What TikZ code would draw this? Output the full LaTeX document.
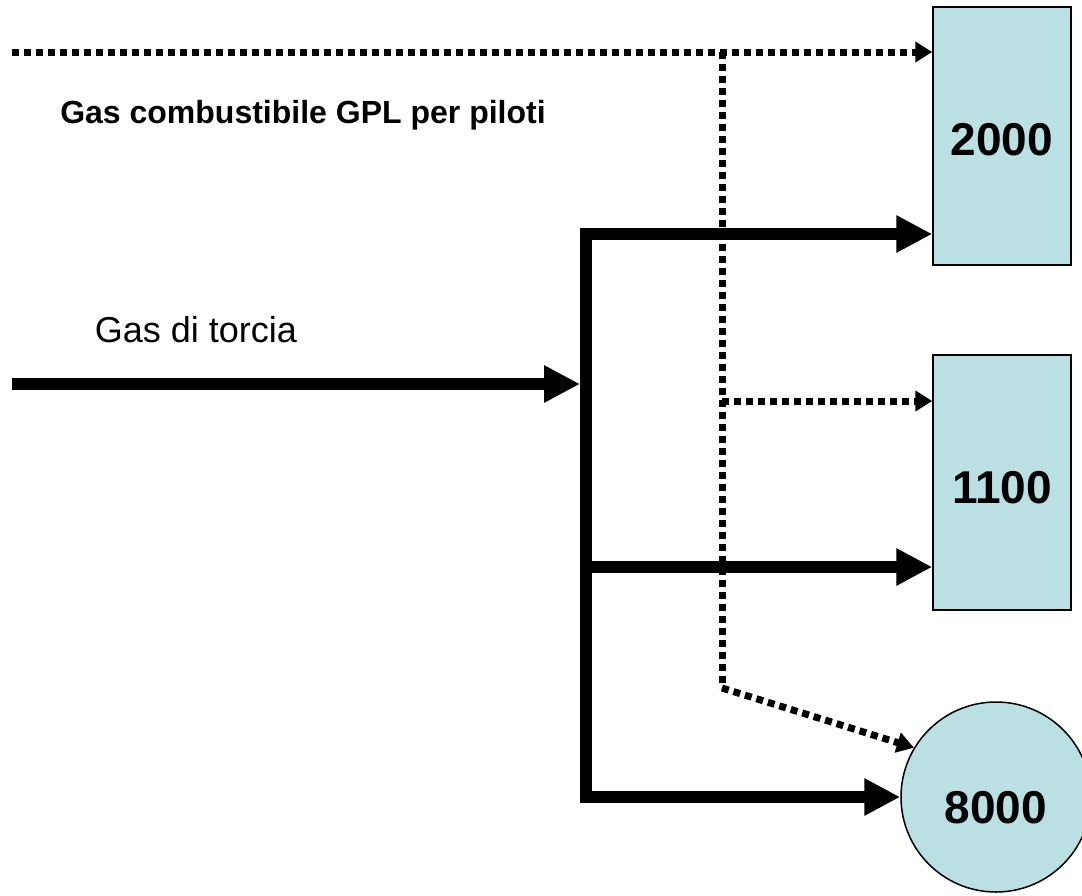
\documentclass[tikz,border=0pt]{standalone}
\usepackage{fontspec}
\setmainfont{Liberation Sans}
\usetikzlibrary{arrows.meta}
\definecolor{boxfill}{RGB}{187,224,227}
\tikzset{
  unitbox/.style={draw=black, line width=1.5pt, fill=boxfill, inner sep=0pt,
    font=\fontsize{46}{50}\selectfont\bfseries},
  flow/.style={line width=12pt, -{Triangle[length=36pt,width=35pt]}},
  busline/.style={line width=12pt},
  pilot/.style={line width=7pt, dash pattern=on 7pt off 5pt, -{Triangle[length=17pt,width=20pt]}},
  pilotline/.style={line width=7pt, dash pattern=on 7pt off 5pt},
}
\newcommand{\lowtext}[2]{\makebox[0pt]{\raisebox{#1}[0pt][0pt]{#2}}}
\begin{document}
\begin{tikzpicture}[x=1pt,y=-1pt]
\useasboundingbox (0,0) rectangle (1082,895);
% units
\node[unitbox, minimum width=138pt, minimum height=258pt] (r2000) at (1002,136) {\lowtext{-19pt}{2000}};
\node[unitbox, minimum width=138pt, minimum height=255pt] (r1100) at (1002,482.5) {\lowtext{-21pt}{1100}};
\node[unitbox, circle, minimum size=190pt] (c8000) at (996,797) {\lowtext{-26pt}{8000}};
% labels
\node[font=\fontsize{32}{36}\selectfont\bfseries] (lgpl) at (303,115) {Gas combustibile GPL per piloti};
\node[font=\fontsize{36}{40}\selectfont] (ltorcia) at (196,330) {Gas di torcia};
% flare gas
\coordinate (in) at (12,384);
\coordinate (bin) at (580,384);
\coordinate (btop) at (586,228);
\coordinate (bbot) at (586,803);
\coordinate (b1) at (586,234);
\coordinate (b2) at (586,567);
\coordinate (b3) at (586,797);
\draw[busline] (btop) -- (bbot);
\draw[flow] (in) -- (bin);
\draw[flow] (b1) -- (b1 -| r2000.west);
\draw[flow] (b2) -- (b2 -| r1100.west);
\draw[flow] (b3) -- (c8000.west);
% pilot gas
\coordinate (pin) at (12,52);
\coordinate (j1) at (722,52);
\coordinate (j2) at (722,401);
\coordinate (j3) at (722,688);
\draw[pilot] (pin) -- (pin -| r2000.west);
\draw[pilotline] (j1) -- (j3);
\draw[pilot] (j2) -- (j2 -| r1100.west);
\draw[pilot] (j3) -- (c8000.149);
\end{tikzpicture}
\end{document}
